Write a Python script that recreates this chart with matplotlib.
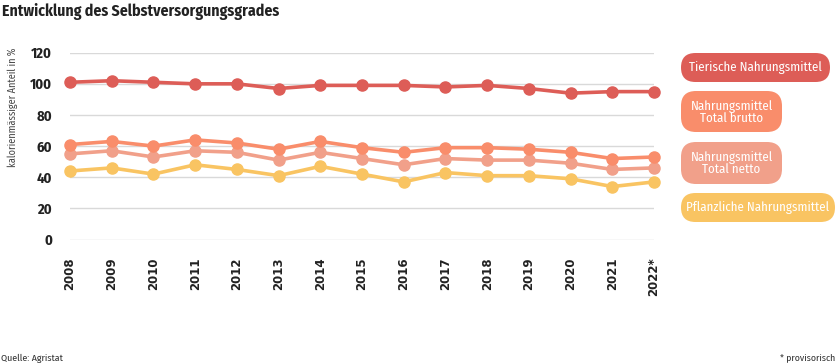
import matplotlib
matplotlib.use("Agg")
import matplotlib.pyplot as plt
from matplotlib.patches import FancyBboxPatch

# data
years = [2008, 2009, 2010, 2011, 2012, 2013, 2014, 2015, 2016, 2017, 2018, 2019, 2020, 2021, 2022]
year_labels = [str(y) for y in years[:-1]] + ["2022*"]
tierisch = [101, 102, 101, 100, 100, 97, 99, 99, 99, 98, 99, 97, 94, 95, 95]
brutto = [61, 63, 60, 64, 62, 58, 63, 59, 56, 59, 59, 58, 56, 52, 53]
netto = [55, 57, 53, 57, 56, 51, 56, 52, 48, 52, 51, 51, 49, 45, 46]
pflanzlich = [44, 46, 42, 48, 45, 41, 47, 42, 37, 43, 41, 41, 39, 34, 37]

names = ["Tierische Nahrungsmittel", "Nahrungsmittel\nTotal brutto",
         "Nahrungsmittel\nTotal netto", "Pflanzliche Nahrungsmittel"]
colors = ["#dd5d57", "#f98d6b", "#f1a08a", "#f9c462"]
series = [tierisch, brutto, netto, pflanzlich]

W, H = 836, 364
narrow = ["Fira Sans Condensed", "Roboto Condensed", "Liberation Sans Narrow", "DejaVu Sans"]

fig = plt.figure(figsize=(W / 100, H / 100), dpi=100)
ax = fig.add_axes([70 / W, 1 - 239.5 / H, (654 - 70) / W, (239.5 - 52.7) / H])

for vals, c in reversed(list(zip(series, colors))):
    ax.plot(years, vals, color=c, lw=2.6, marker="o", ms=8, clip_on=False, zorder=3)

ax.set_xlim(2008, 2022)
ax.set_ylim(0, 120)
ax.set_yticks(range(0, 121, 20))
ax.grid(axis="y", color="#d9d9d9", lw=1)
ax.set_axisbelow(True)
for s in ax.spines.values():
    s.set_visible(False)
ax.tick_params(length=0)
ax.tick_params(axis="y", pad=13)
ax.set_yticklabels([str(v) for v in range(0, 121, 20)], fontweight="bold",
                   fontsize=10.5, color="#222222", family=narrow)
ax.set_xticks(years)
ax.set_xticklabels(year_labels, rotation=90, fontweight="bold", fontsize=8.5,
                   color="#222222", family="DejaVu Sans")
ax.tick_params(axis="x", pad=13)

fig.text(13 / W, 1 - 107 / H, "kalorienmässiger Anteil in %", rotation=90,
         fontsize=7.3, color="#444444", ha="center", va="center", family=narrow)

fig.text(2 / W, 1 - 12 / H, "Entwicklung des Selbstversorgungsgrades", fontsize=11.3,
         fontweight="bold", color="#222222", va="center", family=narrow)
fig.text(1 / W, 1 - 358 / H, "Quelle: Agristat", fontsize=7.1, color="#333333",
         va="center", family=narrow)
fig.text(835 / W, 1 - 358 / H, "* provisorisch", fontsize=7, color="#333333",
         va="center", ha="right", family=narrow)

# overlay in pixel coordinates for the legend pills
lax = fig.add_axes([0, 0, 1, 1], facecolor="none")
lax.set_xlim(0, W)
lax.set_ylim(H, 0)
lax.axis("off")
boxes = [(681, 53, 830, 82), (681, 91, 782, 132), (681, 142, 782, 184), (681, 193, 835, 222)]
for (x0, y0, x1, y1), name, c in zip(boxes, names, colors):
    h = y1 - y0
    r = h / 2 if "\n" not in name else 15
    lax.add_patch(FancyBboxPatch((x0, y0), x1 - x0, h,
                                 boxstyle="round,pad=0,rounding_size=%f" % r,
                                 fc=c, ec="none"))
    lax.text((x0 + x1) / 2, (y0 + y1) / 2 + 0.5, name, color="white",
             fontsize=9.3, ha="center", va="center", linespacing=0.95, family=narrow)

fig.savefig("out.png", dpi=100)
